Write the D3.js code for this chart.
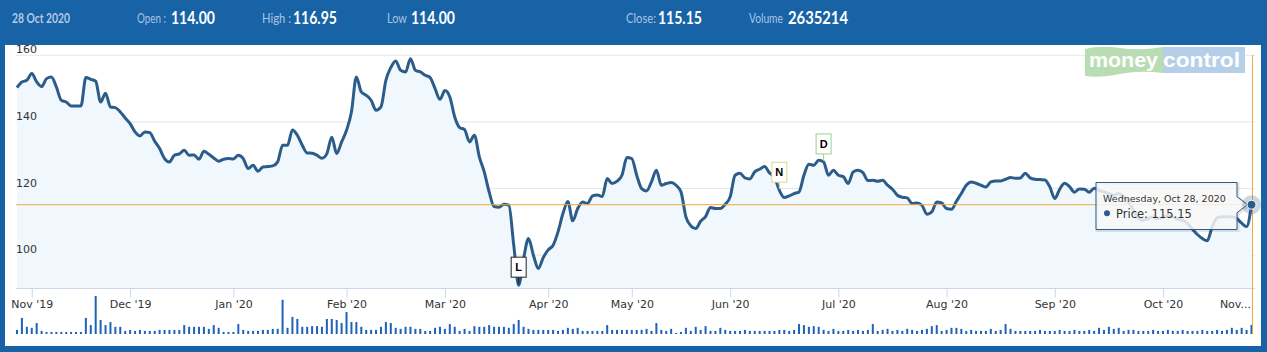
<!doctype html>
<html>
<head>
<meta charset="utf-8">
<script src="https://d3js.org/d3.v7.min.js"></script>
<style>
  body { margin: 0; background: #1763a6; }
  svg { display: block; }
</style>
</head>
<body>
<svg id="chart" width="1267" height="352"></svg>
<script>
// daily closes, 29 Oct 2019 .. 28 Oct 2020 (trading days)
var closes = [
  150.3,152,152.5,154.5,152,150.6,153,153.5,150.5,146.5,
  146,144.8,144.8,144.8,153.3,152.8,152.2,146,148.6,144.5,
  144.3,143,141.2,139.5,137,135.8,137,136.8,134.2,132,
  129,128,130,130.4,131.5,130,130.1,128.8,131.2,130.3,
  129.2,128.2,128.8,129,128.9,130,129,126,127,125.2,
  126.5,126.6,126.8,128,133,133,137.6,136,133,130.7,
  130.6,130,129.1,130.5,135.4,130.5,134,137.5,143,153.5,
  149,148,146.5,143.5,144.5,152.5,156.3,158.3,155.5,155,
  159,155.5,155,154,153.3,150,146.8,149.4,147.5,141.5,
  138.3,137.7,134,136,129.5,125,119,114.6,114.4,115.3,
  115,103,91,99,105,100,96,99.3,101.6,103,
  107,112.5,116.1,110.3,114,116,115.5,117.8,118.1,117.6,
  123,121.5,122.2,124,129.3,129,124,120,119.3,122,
  125.5,121,121.5,121.8,121,119,111.5,108.8,108,110.2,
  111.6,114.3,114,114,115.3,117.5,124,124.6,123.2,122.9,
  125,125.8,126.6,124.7,123.5,119.5,117.3,117.8,118.5,119,
  124,127.3,127,128.5,128,124,125.5,124,123.6,121.5,
  125,125.5,124.8,122.4,122.5,122.2,122.5,121,119.8,118,
  117.4,117.2,115.5,115.7,115,112.3,113,116,115.7,114,
  113.8,116.2,118.5,121,122,121.6,121,120.5,122,122.3,
  122.3,122.8,123.3,123.1,123.2,124.6,123.2,122.8,122.7,122.6,
  120.5,117,119.8,121.6,120.6,118.9,119.9,119.8,118.9,120.1,
  119.5,119,118.5,118,118.5,117.5,116,113.5,111,110.5,
  111,111.5,111,111.3,112,111.5,110.8,110.5,109.5,107.8,
  106.2,105,104.3,108.5,111.2,111.5,111.5,111.5,111,109.6,
  108.6,115.15
];

// daily volume, lakh shares
var volumes = [
  12,47,21,18,32,9,6,6,6,6, 6,6,6,6,47,26,111,41,26,35,
  21,21,9,12,9,12,9,9,9,12, 12,12,12,12,26,21,21,21,21,15,
  26,18,6,6,6,29,12,9,9,9, 12,12,15,15,100,18,50,44,21,21,
  23,23,21,44,44,41,32,64,35,35, 21,12,12,12,21,35,32,18,15,21,
  21,15,15,
  9,9,18,21,15,29,21,9,15,9, 23,21,21,26,21,21,21,18,29,41,
  21,15,12,12,12,12,12,9,12,18, 15,18,9,9,9,9,9,26,12,12,
  12,12,12,12,12,15,9,32,12,9, 15,3,6,18,9,21,12,23,9,9,
  18,12,9,9,9,12,9,9,9,9, 9,9,12,12,9,12,29,26,21,23,
  21,12,9,15,
  9,9,12,9,12,9,12,29,9,12, 15,9,12,9,15,12,9,12,15,23,
  26,9,12,18,18,15,9,12,9,9, 9,15,9,12,29,15,9,9,9,9,
  9,12,9,9,9,12,9,9,12,9, 9,12,9,18,12,21,15,18,9,12,
  12,9,9,9,12,9,9,12,9,9, 12,9,9,9,12,9,9,12,9,12,
  18,12,18,12,26.35
];

var monthLabels = ["Nov '19","Dec '19","Jan '20","Feb '20","Mar '20","Apr '20",
                   "May '20","Jun '20","Jul '20","Aug '20","Sep '20","Oct '20"];
var monthStartIdx = [3,23,44,67,87,108,125,145,167,189,211,233];
var lastMonthLabel = "Nov...";

var yTicks = [100,120,140,160];

var flagIdx = [102,155,164];
var flagTitles = ["L","N","D"];

var quoteDate = "28 Oct 2020";
var headerLabels = ["Open :","High :","Low","Close:","Volume"];
var headerValues = ["114.00","116.95","114.00","115.15","2635214"];
var tooltipDate = "Wednesday, Oct 28, 2020";

var svg = d3.select("#chart");
var lineColor = "#2c5d8a",
    crossColor = "#f2a93b",
    fontAxis = "'DejaVu Sans', Verdana, sans-serif";

// white panel
svg.append("rect").attr("x",5).attr("y",45).attr("width",1256).attr("height",301).attr("fill","#fff");

var x = d3.scaleLinear().domain([0, closes.length-1]).range([17, 1251.5]);
var y = d3.scaleLinear().domain([90,160]).range([288.5,55.3]);
var yv = d3.scaleLinear().domain([0, d3.max(volumes)]).range([334, 296]);

// grid
svg.append("g").selectAll("line").data(yTicks).enter().append("line")
  .attr("x1",16).attr("x2",1255)
  .attr("y1",function(d){return y(d);}).attr("y2",function(d){return y(d);})
  .attr("stroke","#e6e6e6").attr("stroke-width",1);

// logo
var logo = svg.append("g");
logo.append("path").attr("fill","#b9ddb2")
  .attr("d","M1085,49 Q1100,45 1120,48 T1163,47 L1163,73 Q1140,70 1120,74 T1085,76 Z");
logo.append("rect").attr("x",1163).attr("y",47).attr("width",82).attr("height",26).attr("fill","#b6cfe8");
logo.append("text").attr("x",1089).attr("y",67).attr("textLength",69).attr("lengthAdjust","spacingAndGlyphs")
  .attr("font-family","'Liberation Sans', Arial, sans-serif").attr("font-weight","bold").attr("font-size",21)
  .attr("fill","#fff").text("money");
logo.append("text").attr("x",1163).attr("y",67).attr("textLength",77).attr("lengthAdjust","spacingAndGlyphs")
  .attr("font-family","'Liberation Sans', Arial, sans-serif").attr("font-weight","bold").attr("font-size",21)
  .attr("fill","#fff").text("control");

// area + line
var idx = d3.range(closes.length);
var area = d3.area().x(function(i){return x(i);}).y0(y(90)).y1(function(i){return y(closes[i]);})
  .curve(d3.curveMonotoneX);
var line = d3.line().x(function(i){return x(i);}).y(function(i){return y(closes[i]);})
  .curve(d3.curveMonotoneX);
svg.append("path").datum(idx).attr("d",area).attr("fill","#f0f7fd");

// y labels
svg.append("g").selectAll("text").data(yTicks).enter().append("text")
  .attr("x",16).attr("y",function(d){return y(d)-2;})
  .attr("font-family",fontAxis).attr("font-size",11).attr("fill","#333")
  .text(function(d){return d;});

// x axis
var xAxis = d3.axisBottom(x).tickValues(monthStartIdx)
  .tickFormat(function(d,i){return monthLabels[i];}).tickSize(9).tickSizeOuter(0);
var gx = svg.append("g").attr("transform","translate(0,288.5)").call(xAxis);
gx.select(".domain").remove();
gx.selectAll(".tick line").attr("stroke","#ccd6eb");
gx.selectAll(".tick text").attr("font-family",fontAxis).attr("font-size",11).attr("fill","#333").attr("y",12);
gx.append("line").attr("x1",16).attr("x2",1255).attr("y1",0).attr("y2",0).attr("stroke","#ccd6eb");
gx.append("text").attr("x",1251).attr("y",12).attr("dy","0.71em").attr("text-anchor","end")
  .attr("font-family",fontAxis).attr("font-size",11).attr("fill","#333").text(lastMonthLabel);

svg.append("path").datum(idx).attr("d",line).attr("fill","none")
  .attr("stroke",lineColor).attr("stroke-width",3).attr("stroke-linejoin","round");

// flags (drawn over the line)
var flagStroke = {L:"#222222", N:"#d9d98e", D:"#9ad392"};
var flags = svg.append("g").selectAll("g").data(flagIdx).enter().append("g");
flags.append("line")
  .attr("x1",function(d){return x(d);}).attr("x2",function(d){return x(d);})
  .attr("y1",function(d){return y(closes[d])-8;}).attr("y2",function(d){return y(closes[d])-1;})
  .attr("stroke",function(d,i){return flagStroke[flagTitles[i]];});
flags.append("rect")
  .attr("x",function(d){return x(d)-7.5;}).attr("y",function(d){return y(closes[d])-28;})
  .attr("width",15).attr("height",20).attr("fill","#fff")
  .attr("stroke",function(d,i){return flagStroke[flagTitles[i]];});
flags.append("text")
  .attr("x",function(d){return x(d);}).attr("y",function(d){return y(closes[d])-14;})
  .attr("text-anchor","middle").attr("font-family","'Liberation Sans', Arial, sans-serif")
  .attr("font-weight","bold").attr("font-size",11).attr("fill","#000")
  .text(function(d,i){return flagTitles[i];});

// volume
svg.append("g").selectAll("rect").data(idx).enter().append("rect")
  .attr("x",function(i){return x(i)-1;}).attr("width",2)
  .attr("y",function(i){return yv(volumes[i]);})
  .attr("height",function(i){return yv(0)-yv(volumes[i]);})
  .attr("fill","#1f62b8");

// crosshairs
var last = closes.length-1;
svg.append("line").attr("x1",16).attr("x2",1255).attr("y1",y(closes[last])).attr("y2",y(closes[last]))
  .attr("stroke",crossColor).attr("stroke-width",1);
svg.append("line").attr("x1",x(last)+1).attr("x2",x(last)+1).attr("y1",55).attr("y2",334)
  .attr("stroke",crossColor).attr("stroke-width",1);

// tooltip
var tx = 1096, ty = 182.5, tw = 141, th = 47, ay = y(closes[last]);
var tipPath = "M"+tx+","+ty+" H"+(tx+tw)+" V"+(ay-8)+" L"+(x(last)-4)+","+ay+" L"+(tx+tw)+","+(ay+8)+
       " V"+(ty+th)+" H"+tx+" Z";
var tip = svg.append("g");
tip.append("path").attr("transform","translate(1,1)").attr("d",tipPath)
  .attr("fill","none").attr("stroke","#000").attr("stroke-opacity",0.1).attr("stroke-width",3);
tip.append("path").attr("d",tipPath)
  .attr("fill","rgba(247,247,247,0.85)").attr("stroke",lineColor).attr("stroke-width",1);
tip.append("text").attr("x",1103).attr("y",201.5).attr("font-family",fontAxis).attr("font-size",9.5)
  .attr("fill","#333").text(tooltipDate);
tip.append("circle").attr("cx",1107).attr("cy",213.3).attr("r",3).attr("fill",lineColor);
tip.append("text").attr("x",1116).attr("y",217.5).attr("font-family",fontAxis).attr("font-size",11.5)
  .attr("fill","#333").text("Price: " + closes[last].toFixed(2));

// hover marker
svg.append("circle").attr("cx",x(last)).attr("cy",ay).attr("r",9.5).attr("fill",lineColor).attr("fill-opacity",0.25);
svg.append("circle").attr("cx",x(last)).attr("cy",ay).attr("r",4.5).attr("fill",lineColor)
  .attr("stroke","#fff").attr("stroke-width",1);

// header: condensed look by squeezing each text to its width
var hdr = svg.append("g");
hdr.append("rect").attr("x",0).attr("y",0).attr("width",1267).attr("height",45).attr("fill","#1763a6");
function squeezed(t, x0, w, size, weight, color, base) {
  var el = hdr.append("text").attr("font-family","Lato, sans-serif").attr("font-size",size)
    .attr("font-weight",weight).attr("fill",color).text(t);
  var nat = el.node().getComputedTextLength();
  el.attr("transform","translate("+x0+","+base+") scale("+(w/nat)+",1)");
}
squeezed(quoteDate, 12, 58, 14, "bold", "#b6cae4", 23);
var labelX = [137,262,387,626,749], labelW = [29,29,20,30,34];
var valueX = [171,293,411,658,788], valueW = [44,44,44,44,60];
headerLabels.forEach(function(t,i){
  squeezed(t, labelX[i], labelW[i], 14, "normal", "#a9c3e4", 23);
  squeezed(headerValues[i], valueX[i], valueW[i], 16.5, "bold", "#ffffff", 23.5);
});
</script>
</body>
</html>
